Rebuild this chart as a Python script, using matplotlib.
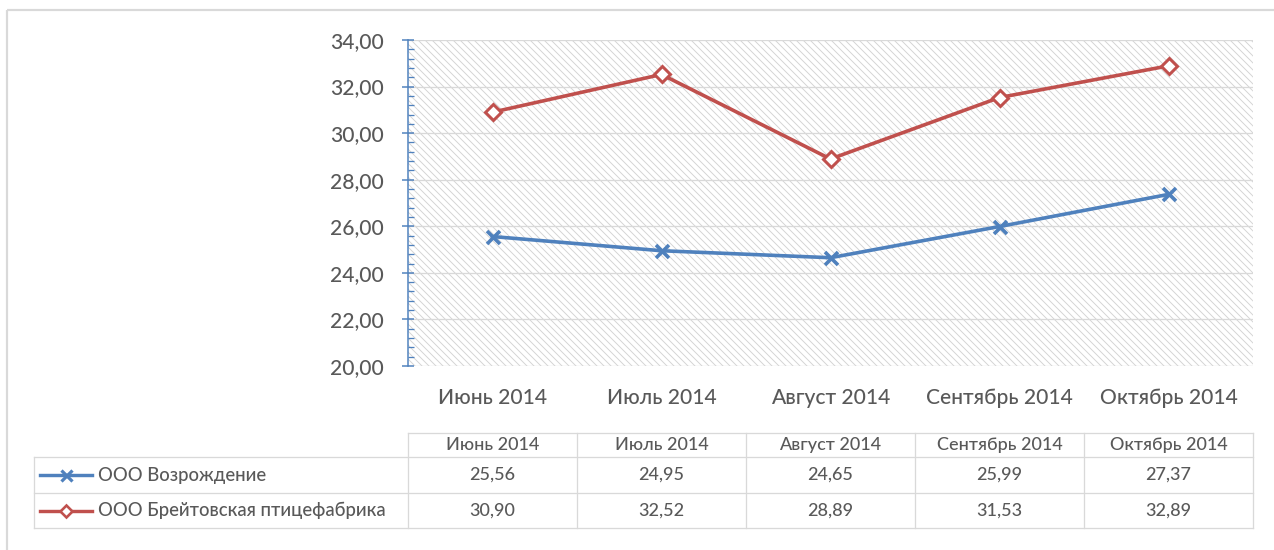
import matplotlib
matplotlib.use("Agg")
import matplotlib.pyplot as plt
from matplotlib.ticker import MultipleLocator, FuncFormatter

# ---- data ----
categories = ["Июнь 2014", "Июль 2014", "Август 2014", "Сентябрь 2014", "Октябрь 2014"]
series_names = ["ООО Возрождение", "ООО Брейтовская птицефабрика"]
vozrozhdenie = [25.56, 24.95, 24.65, 25.99, 27.37]
breitovskaya = [30.90, 32.52, 28.89, 31.53, 32.89]
y_min, y_max, y_step = 20, 34, 2

# ---- style ----
W, H, DPI = 1274, 550, 84
plt.rcParams['font.family'] = ['Lato', 'Noto Sans', 'DejaVu Sans']
plt.rcParams['font.weight'] = 'medium'
plt.rcParams['hatch.linewidth'] = 0.8
TXT = '#595959'
GRID = '#d9d9d9'
BLUE = '#4F81BD'
RED = '#C0504D'
def pt(px):
    return px * 72.0 / DPI

fig = plt.figure(figsize=(W / DPI, H / DPI), dpi=DPI)
fig.patch.set_facecolor('white')

def fx(px):
    return px / W
def fy(py):
    return 1 - py / H

# outer frame (top and left edges visible)
frame = fig.add_axes([0, 0, 1, 1], zorder=-5)
frame.set_xlim(0, W); frame.set_ylim(H, 0); frame.axis('off')
frame.plot([7, W + 5], [10, 10], color='#d9d9d9', lw=pt(2.2), solid_capstyle='butt')
frame.plot([7, 7], [10, H + 5], color='#d9d9d9', lw=pt(2.2), solid_capstyle='butt')

# ---- chart ----
L, R, T, B = 408, 1253, 40, 366
ax = fig.add_axes([fx(L), fy(B), fx(R) - fx(L), fy(T) - fy(B)])
x = list(range(len(categories)))
ax.set_xlim(-0.5, len(categories) - 0.5)
ax.set_ylim(y_min, y_max)

ax.patch.set_facecolor('white')
ax.patch.set_edgecolor('#d4d4d4')
ax.patch.set_hatch('\\\\\\\\')
ax.patch.set_linewidth(0)

for s in ['top', 'right', 'bottom']:
    ax.spines[s].set_visible(False)
ax.spines['left'].set_color(BLUE)
ax.spines['left'].set_linewidth(pt(1.5))

ax.yaxis.set_major_locator(MultipleLocator(y_step))
ax.yaxis.set_minor_locator(MultipleLocator(y_step / 5))
ax.yaxis.set_major_formatter(FuncFormatter(lambda v, p: f"{v:.2f}".replace('.', ',')))
ax.tick_params(axis='y', which='major', direction='inout', length=pt(12), width=pt(1.5),
               color=BLUE, labelcolor=TXT, labelsize=pt(21), pad=pt(18))
ax.tick_params(axis='y', which='minor', direction='in', length=pt(6), width=pt(1.3), color=BLUE)
ax.set_xticks(x)
ax.set_xticklabels(categories)
ax.tick_params(axis='x', length=0, labelcolor=TXT, labelsize=pt(21), pad=pt(22))

ax.grid(axis='y', which='major', color=GRID, lw=pt(1.3))
ax.set_axisbelow(True)

ax.plot(x, vozrozhdenie, color=BLUE, lw=pt(3.6), marker='x', ms=pt(13), mew=pt(3.6),
        mec=BLUE, zorder=3, clip_on=False)
ax.plot(x, breitovskaya, color=RED, lw=pt(3.6), marker='D', ms=pt(11), mew=pt(3),
        mfc='white', mec=RED, zorder=3, clip_on=False)

# ---- data table ----
TL = 34
rows_y = [433, 457, 493, 528]
tax = fig.add_axes([fx(TL), fy(rows_y[-1]), fx(R) - fx(TL), fy(rows_y[0]) - fy(rows_y[-1])])
col_w = (R - L) / len(categories)
xl = -0.5 - (L - TL) / col_w
tax.set_xlim(xl, len(categories) - 0.5)
tax.set_ylim(rows_y[-1], rows_y[0])
tax.axis('off')
lc = '#d9d9d9'
lw = pt(1.3)
tax.plot([-0.5, len(categories) - 0.5], [rows_y[0]] * 2, color=lc, lw=lw, clip_on=False)
for yy in rows_y[1:]:
    tax.plot([xl, len(categories) - 0.5], [yy] * 2, color=lc, lw=lw, clip_on=False)
tax.plot([xl, xl], [rows_y[1], rows_y[-1]], color=lc, lw=lw, clip_on=False)
for i in range(len(categories) + 1):
    tax.plot([i - 0.5, i - 0.5], [rows_y[0], rows_y[-1]], color=lc, lw=lw, clip_on=False)

fs_tab = pt(18)
for i, c in enumerate(categories):
    tax.text(i, (rows_y[0] + rows_y[1]) / 2, c, ha='center', va='center', color=TXT, fontsize=fs_tab)
series_vals = [vozrozhdenie, breitovskaya]
styles = [dict(color=BLUE, marker='x', ms=pt(11), mew=pt(3.2), mec=BLUE),
          dict(color=RED, marker='D', ms=pt(9), mew=pt(2.6), mfc='white', mec=RED)]
for r, (name, vals, st) in enumerate(zip(series_names, series_vals, styles)):
    yc = (rows_y[r + 1] + rows_y[r + 2]) / 2
    for i, v in enumerate(vals):
        tax.text(i, yc, f"{v:.2f}".replace('.', ','), ha='center', va='center', color=TXT, fontsize=fs_tab)
    k0 = xl + 6 / col_w
    k1 = xl + 58 / col_w
    tax.plot([k0, k1], [yc, yc], lw=pt(3.4), color=st['color'], clip_on=False)
    tax.plot([(k0 + k1) / 2], [yc], ls='none', clip_on=False, **st)
    tax.text(xl + 64 / col_w, yc, name, ha='left', va='center', color=TXT, fontsize=fs_tab * 1.03)

fig.savefig('out.png', dpi=DPI, facecolor='white')
